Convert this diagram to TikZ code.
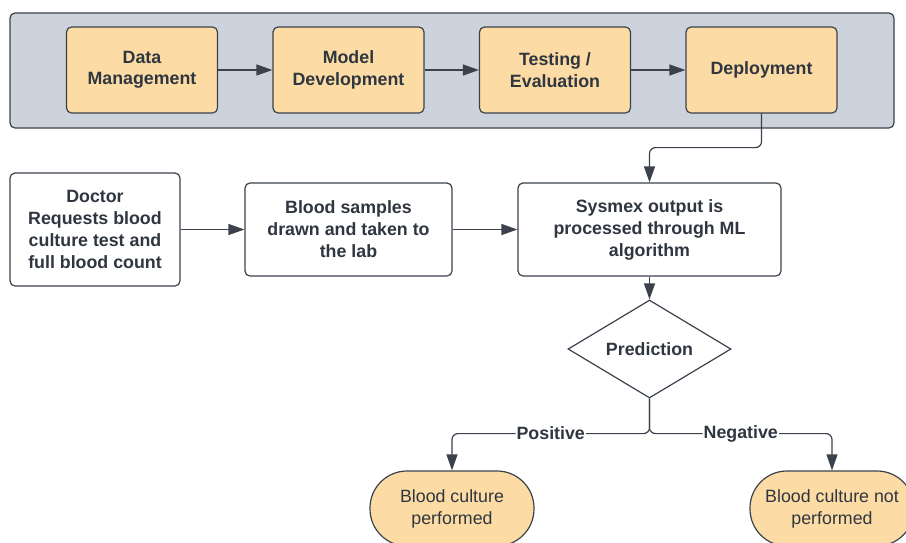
\documentclass[tikz,border=0pt]{standalone}
\usepackage{fontspec}
\setmainfont{Liberation Sans}
\usepackage{xcolor}
\usetikzlibrary{arrows.meta,positioning,shapes.geometric}

\definecolor{boxfill}{HTML}{FCDCA4}
\definecolor{bandfill}{HTML}{CDD3DC}
\definecolor{edgecol}{HTML}{3B424C}
\definecolor{textcol}{HTML}{2F3640}

\begin{document}
\begin{tikzpicture}[x=1pt,y=1pt,>={Triangle[length=16pt,width=11pt]},line width=1.2pt,color=edgecol,text=textcol,node distance=206.5pt,
    stage node/.style={rectangle,rounded corners=5pt,draw,fill=boxfill,align=center,inner sep=0pt,minimum width=151pt,minimum height=86pt,font=\bfseries\fontsize{17.8}{21.5}\selectfont},
    step node/.style={rectangle,rounded corners=5pt,draw,fill=white,align=center,inner sep=0pt,font=\bfseries\fontsize{17.8}{22}\selectfont},
    pred node/.style={diamond,draw,fill=white,aspect=1.66,inner sep=0pt,minimum width=163pt,minimum height=98pt,font=\bfseries\fontsize{17.8}{21.5}\selectfont},
    end node/.style={rectangle,rounded corners=37pt,draw,fill=boxfill,align=center,inner sep=0pt,minimum width=164pt,minimum height=75pt,font=\fontsize{17.8}{22}\selectfont},
    label node/.style={fill=white,inner sep=1pt,font=\bfseries\fontsize{17.8}{21.5}\selectfont}]

                \useasboundingbox[fill=white] (0,0) rectangle (906,-542);

                % ML pipeline band
                \draw[fill=bandfill,rounded corners=5pt] (10,-13) rectangle (894,-128);

                \node[stage node] (1) at (142,-70) {Data\\Management};
                \node[stage node] (2) [right of = 1] {Model\\Development};
                \node[stage node] (3) [right of = 2] {Testing /\\Evaluation};
                \node[stage node] (4) [right of = 3] {Deployment};

                \node[step node, minimum width=170pt, minimum height=113pt] (5) at (95,-229.5) {Doctor\\Requests blood\\culture test and\\full blood count};
                \node[step node, minimum width=207pt, minimum height=93pt] (6) at (348.5,-229.5) {Blood samples\\drawn and taken to\\the lab};
                \node[step node, minimum width=263pt, minimum height=93pt] (7) at (649.5,-229.5) {Sysmex output is\\processed through ML\\algorithm};
                \node[pred node] (8) at (649.5,-349) {Prediction};
                \node[end node] (9) at (452,-508.5) {Blood culture\\performed};
                \node[end node] (10) at (832,-508.5) {Blood culture not\\performed};

                \draw[->] (1) to (2);
                \draw[->] (2) to (3);
                \draw[->] (3) to (4);

                \draw[->] (5) to (6);
                \draw[->] (6) to (7);
                \draw[->, rounded corners=6pt] (4.south) -- ++(0,-34) -| (7.north);
                \draw[->] (7) to (8);

                \draw[->, rounded corners=6pt] (8.south) -- ++(0,-35) -| node[label node, pos=0.25] {Positive} (9.north);
                \draw[->, rounded corners=6pt] (8.south) -- ++(0,-35) -| node[label node, pos=0.25] {Negative} (10.north);
            \end{tikzpicture}
\end{document}
